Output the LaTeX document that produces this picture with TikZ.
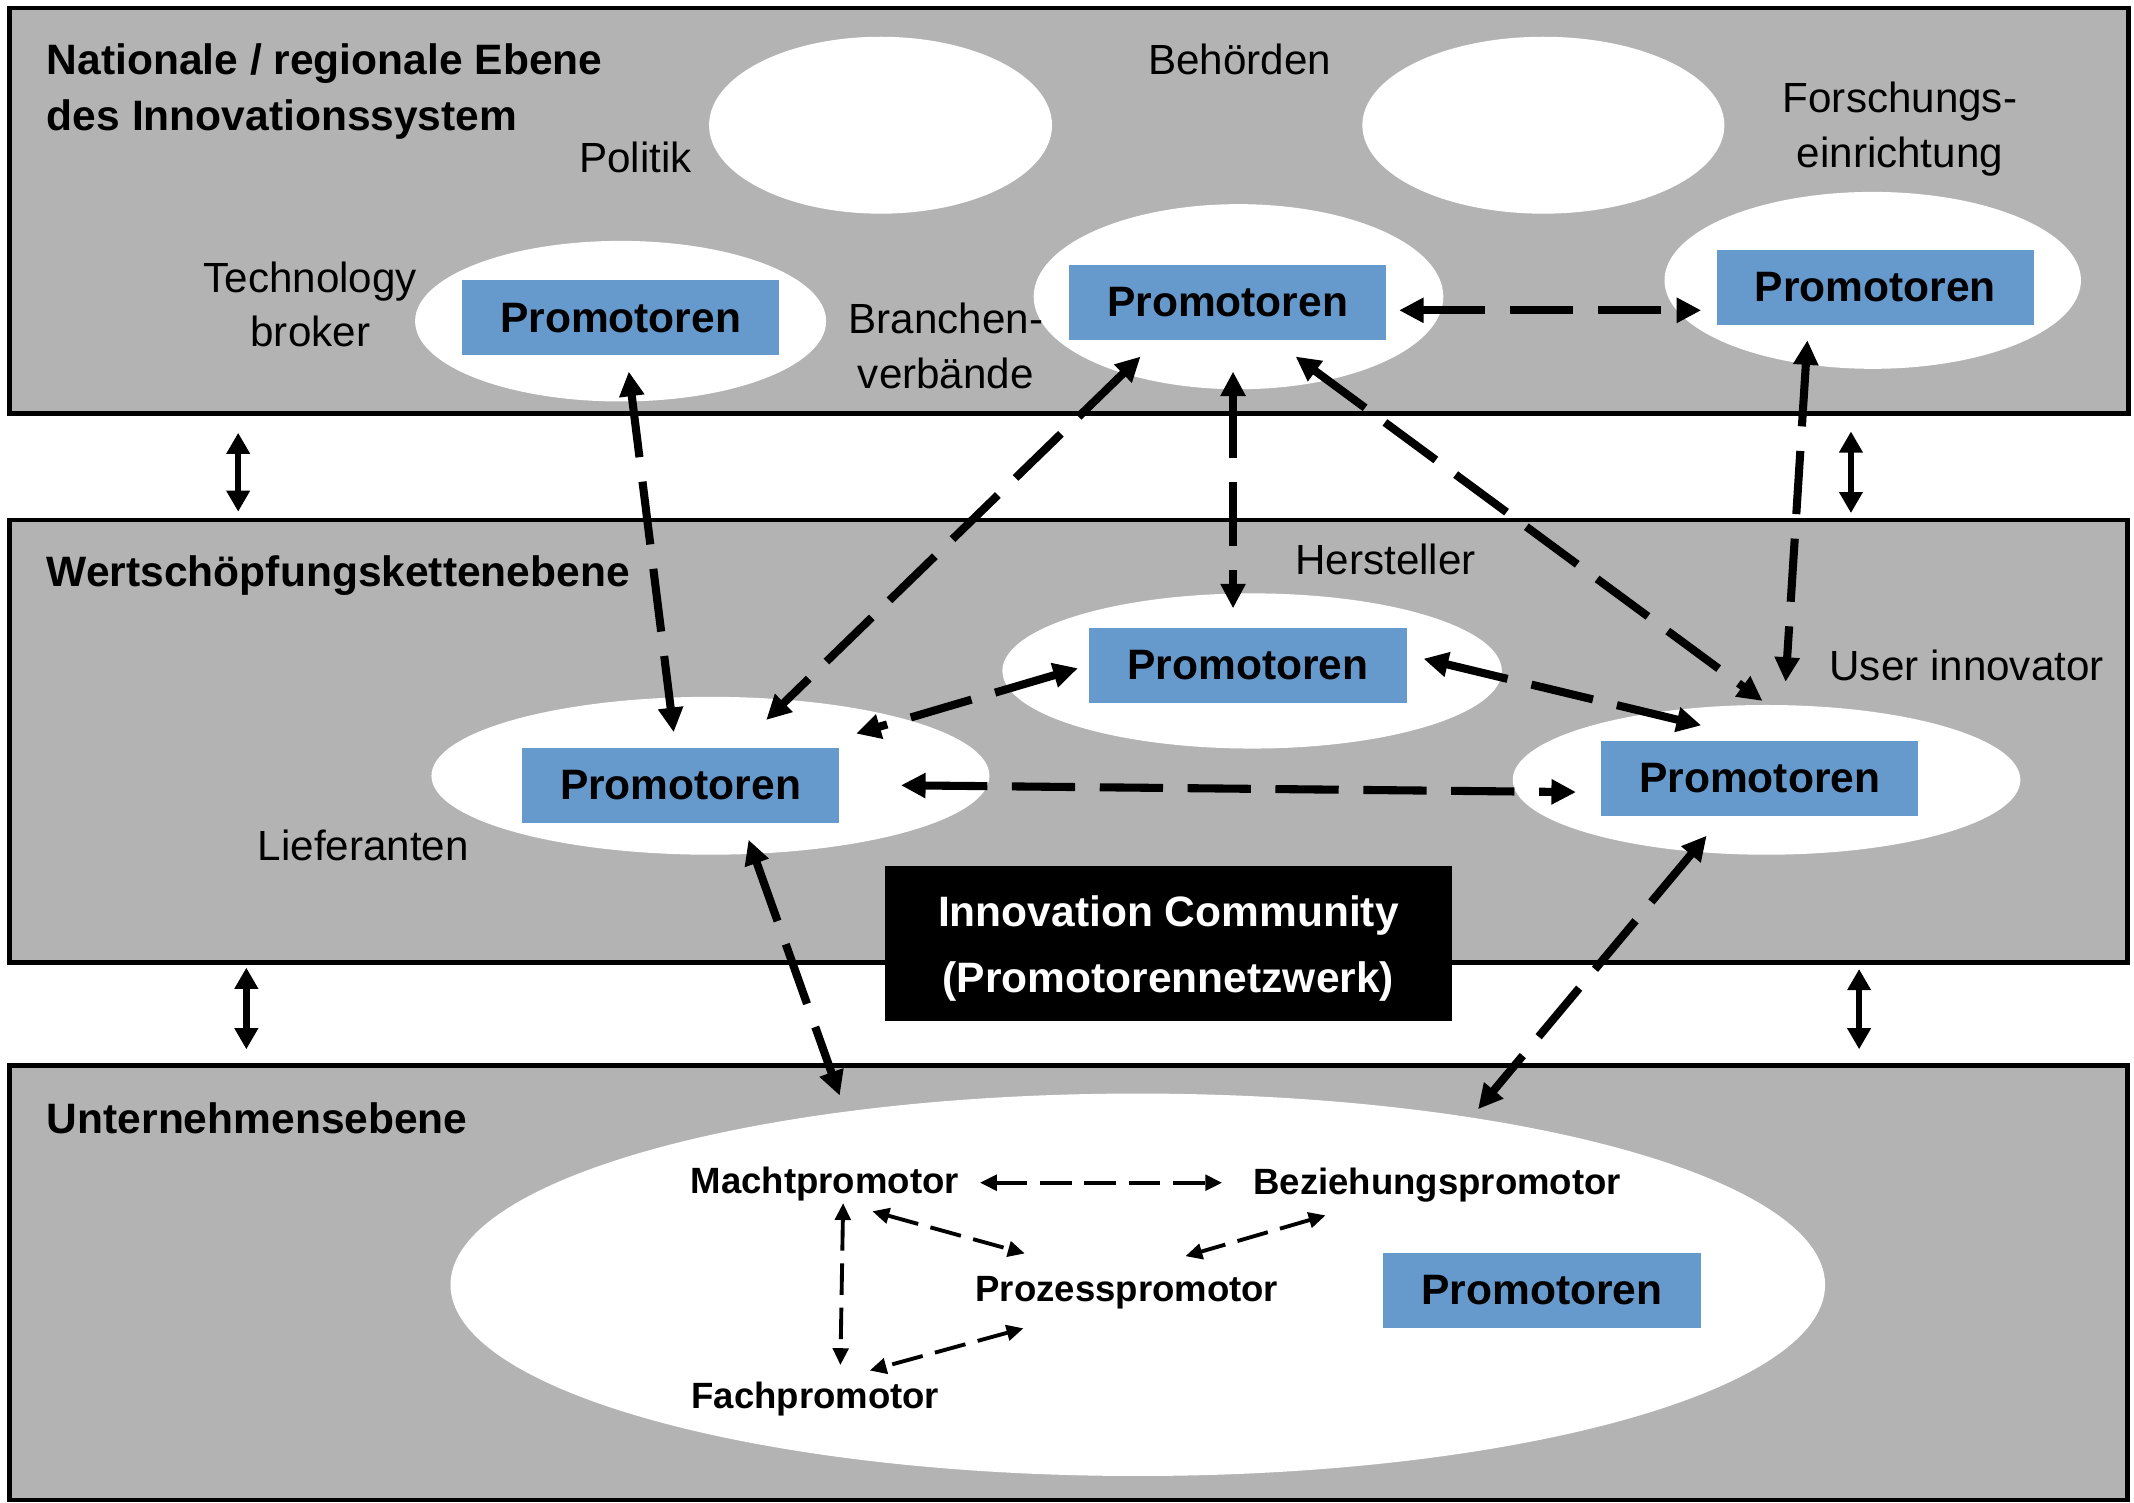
\documentclass[tikz,border=0pt]{standalone}
\usepackage{fontspec}
\setmainfont{Liberation Sans}
\usetikzlibrary{arrows.meta,shapes.geometric}
\newlength\unitpx
\setlength\unitpx{0.01361cm}
\definecolor{bandgray}{RGB}{179,179,179}
\definecolor{promblue}{RGB}{102,153,204}
\begin{document}
\begin{tikzpicture}[x=0.01361cm,y=-0.01361cm,
  band/.style={draw=black, line width=1.3pt, fill=bandgray},
  blob/.style={ellipse, fill=white, draw=none, inner sep=0pt},
  prom/.style={fill=promblue, minimum width=233*\unitpx, minimum height=55*\unitpx, inner sep=0pt, font=\fontsize{12.1}{14}\selectfont\bfseries},
  lbl/.style={font=\fontsize{12}{15.5}\selectfont, align=center, inner sep=0pt},
  ttl/.style={font=\fontsize{12.1}{15.9}\selectfont\bfseries, align=left, inner sep=0pt, anchor=west},
  pl/.style={font=\fontsize{10.4}{12}\selectfont\bfseries, inner sep=0pt},
  link/.style={line width=2.3pt, dash pattern=on 18pt off 7pt, {Triangle[length=7pt,width=6.8pt]}-{Triangle[length=7pt,width=6.8pt]}},
  slink/.style={line width=1.1pt, dash pattern=on 9pt off 3.6pt, {Triangle[length=4.8pt,width=4.4pt]}-{Triangle[length=4.8pt,width=4.4pt]}},
  lvl/.style={line width=1.85pt, {Triangle[length=6pt,width=6.4pt]}-{Triangle[length=6pt,width=6.4pt]}}
]
\useasboundingbox (0,0) rectangle (1568,1104);
% bands
\draw[band] (7,6) rectangle (1564,304);
\draw[band] (7,382) rectangle (1563,707);
\draw[band] (7,783) rectangle (1563,1102);
% ellipses
\node[blob, minimum width=252*\unitpx, minimum height=130*\unitpx] (polE) at (647,92) {};
\node[blob, minimum width=266*\unitpx, minimum height=130*\unitpx] (behE) at (1134,92) {};
\node[blob, minimum width=302*\unitpx, minimum height=118*\unitpx] (tbE) at (456,236) {};
\node[blob, minimum width=301*\unitpx, minimum height=136*\unitpx] (bvE) at (910,218) {};
\node[blob, minimum width=306*\unitpx, minimum height=130*\unitpx] (feE) at (1376,206) {};
\node[blob, minimum width=367*\unitpx, minimum height=114*\unitpx] (heE) at (920,493) {};
\node[blob, minimum width=410*\unitpx, minimum height=116*\unitpx] (lfE) at (522,570) {};
\node[blob, minimum width=373*\unitpx, minimum height=110*\unitpx] (uiE) at (1298,573) {};
\node[blob, minimum width=1010*\unitpx, minimum height=281*\unitpx] (ueE) at (836,944) {};
% promotor boxes
\node[prom] (tbP) at (456,233.5) {Promotoren};
\node[prom] (bvP) at (902,222) {Promotoren};
\node[prom] (feP) at (1378,211) {Promotoren};
\node[prom] (heP) at (917,489) {Promotoren};
\node[prom] (lfP) at (500,577) {Promotoren};
\node[prom] (uiP) at (1293,572) {Promotoren};
\node[prom] (ueP) at (1133,948) {Promotoren};
% innovation community
\node[fill=black, minimum width=417*\unitpx, minimum height=114*\unitpx, inner sep=0pt] (ic) at (858.5,693) {};
\node[text=white, inner sep=0pt, align=center, font=\fontsize{12.1}{18.9}\selectfont\bfseries] (icT) at (858.5,697) {Innovation Community\\(Promotorennetzwerk)};
% titles
\node[ttl] (t1) at (34,67.5) {Nationale / regionale Ebene\\des Innovationssystem};
\node[ttl] (t2) at (34,423) {Wertschöpfungskettenebene};
\node[ttl] (t3) at (34,822) {Unternehmensebene};
% labels
\node[lbl] (polL) at (467,116) {Politik};
\node[lbl] (behL) at (911,44) {Behörden};
\node[lbl] (feL) at (1396,95) {Forschungs-\\einrichtung};
\node[lbl] (tbL) at (228,223.5) {Technology\\broker};
\node[lbl] (bvL) at (695,254) {Branchen-\\verbände};
\node[lbl] (heL) at (1018,411) {Hersteller};
\node[lbl] (uiL) at (1445,489) {User innovator};
\node[lbl] (lfL) at (267,621) {Lieferanten};
% promotor roles
\node[pl] (mp) at (606,870) {Machtpromotor};
\node[pl] (bp) at (1056,871) {Beziehungspromotor};
\node[pl] (pp) at (828,950) {Prozesspromotor};
\node[pl] (fp) at (599,1028) {Fachpromotor};
% connector end points
\coordinate (c1a) at (462,273); \coordinate (c1b) at (495,538);
\coordinate (c2a) at (1028,228); \coordinate (c2b) at (1250,228);
\coordinate (c3a) at (838,262); \coordinate (c3b) at (563,529);
\coordinate (c4a) at (906,273); \coordinate (c4b) at (906,447);
\coordinate (c5a) at (952,262); \coordinate (c5b) at (1295,515);
\coordinate (c6a) at (1328,250); \coordinate (c6b) at (1312,501);
\coordinate (c7a) at (792,491); \coordinate (c7b) at (629,539);
\coordinate (c8a) at (1046,484); \coordinate (c8b) at (1250,533);
\coordinate (c9a) at (662,577); \coordinate (c9b) at (1158,582);
\coordinate (c10a) at (550,617); \coordinate (c10b) at (617,805);
\coordinate (c11a) at (1254,614); \coordinate (c11b) at (1086,815);
\coordinate (s1a) at (720,869); \coordinate (s1b) at (898,869);
\coordinate (s2a) at (641,890); \coordinate (s2b) at (753,921);
\coordinate (s3a) at (974,893); \coordinate (s3b) at (871,923);
\coordinate (s4a) at (619.5,884); \coordinate (s4b) at (617.5,1003);
\coordinate (s5a) at (752,976); \coordinate (s5b) at (639,1007);
\coordinate (v1a) at (175,318); \coordinate (v1b) at (175,376);
\coordinate (v2a) at (181,711); \coordinate (v2b) at (181,771);
\coordinate (v3a) at (1360,317); \coordinate (v3b) at (1360,377);
\coordinate (v4a) at (1366,712); \coordinate (v4b) at (1366,771);
% dashed links
\draw[link] (c1a) -- (c1b);
\draw[link] (c2a) -- (c2b);
\draw[link] (c3a) -- (c3b);
\draw[link] (c4a) -- (c4b);
\draw[link] (c5a) -- (c5b);
\draw[link] (c6a) -- (c6b);
\draw[link] (c7a) -- (c7b);
\draw[link] (c8a) -- (c8b);
\draw[link] (c9a) -- (c9b);
\draw[link] (c10a) -- (c10b);
\draw[link] (c11a) -- (c11b);
% small links
\draw[slink] (s1a) -- (s1b);
\draw[slink] (s2a) -- (s2b);
\draw[slink] (s3a) -- (s3b);
\draw[slink] (s4a) -- (s4b);
\draw[slink] (s5a) -- (s5b);
% level arrows
\draw[lvl] (v1a) -- (v1b);
\draw[lvl] (v2a) -- (v2b);
\draw[lvl] (v3a) -- (v3b);
\draw[lvl] (v4a) -- (v4b);
\end{tikzpicture}
\end{document}
